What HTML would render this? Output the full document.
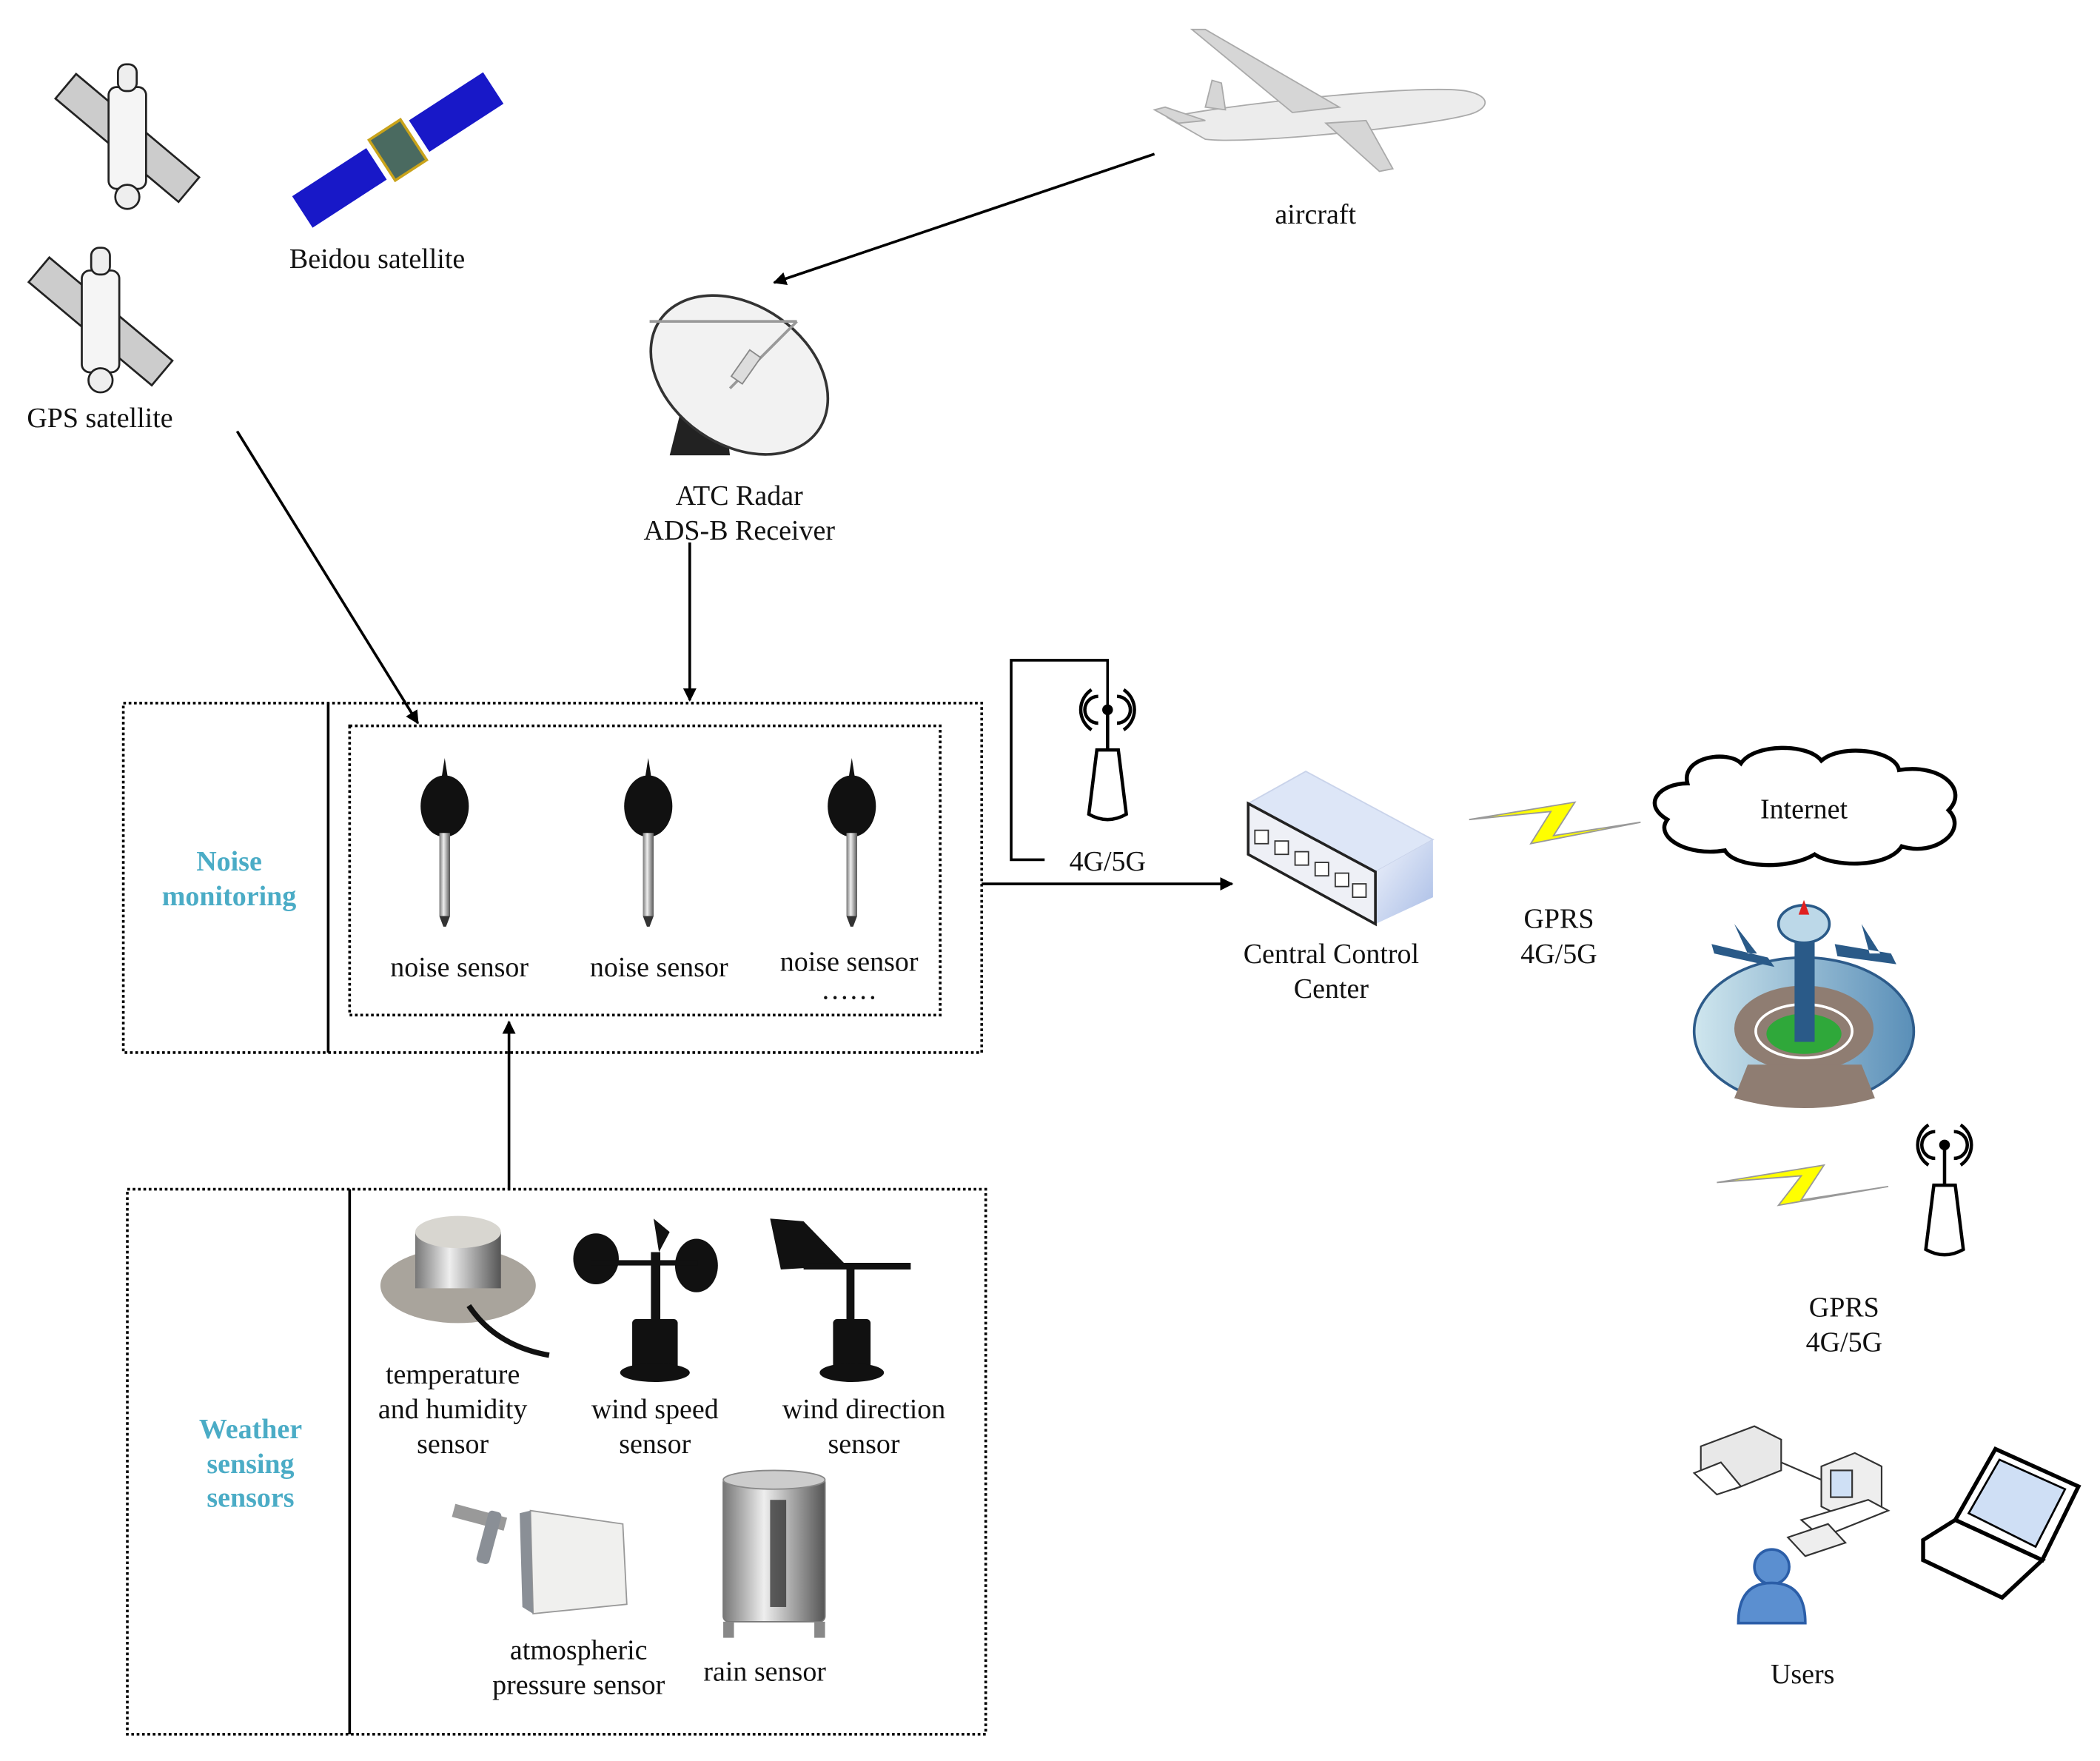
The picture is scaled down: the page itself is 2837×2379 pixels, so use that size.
<!DOCTYPE html>
<html><head><meta charset="utf-8"><style>
html,body{margin:0;padding:0;background:#fff;}
svg{display:block;}
text{font-family:"Liberation Serif",serif;font-size:21px;fill:#111;}
.b{fill:#4bacc6;font-weight:bold;}
</style></head><body>
<svg width="2837" height="2379" viewBox="0 0 1568 1315" xmlns="http://www.w3.org/2000/svg">
<defs>
<marker id="ar" markerWidth="10" markerHeight="10" refX="9" refY="5" orient="auto" markerUnits="userSpaceOnUse" viewBox="0 0 10 10"><path d="M0,0 L10,5 L0,10 Z" fill="#000"/></marker>
<linearGradient id="sw" x1="0" y1="0" x2="1" y2="1"><stop offset="0" stop-color="#eef2fb"/><stop offset="1" stop-color="#a9bde6"/></linearGradient>
<linearGradient id="met" x1="0" x2="1"><stop offset="0" stop-color="#777"/><stop offset=".4" stop-color="#eee"/><stop offset="1" stop-color="#555"/></linearGradient>
<linearGradient id="ring" x1="0" x2="1"><stop offset="0" stop-color="#cfe6ee"/><stop offset="1" stop-color="#5a8fb8"/></linearGradient>
</defs>

<!-- GPS satellites -->
<g transform="translate(95,103)" stroke="#222" stroke-width="1.5">
<rect x="-60" y="-12" width="120" height="24" fill="#ccc" transform="rotate(40)"/>
<rect x="-14" y="-38" width="28" height="76" rx="6" fill="#f5f5f5"/>
<rect x="-7" y="-55" width="14" height="20" rx="6" fill="#eee"/>
<circle cx="0" cy="44" r="9" fill="#eee"/>
</g>
<g transform="translate(75,240)" stroke="#222" stroke-width="1.5">
<rect x="-60" y="-12" width="120" height="24" fill="#ccc" transform="rotate(40)"/>
<rect x="-14" y="-38" width="28" height="76" rx="6" fill="#f5f5f5"/>
<rect x="-7" y="-55" width="14" height="20" rx="6" fill="#eee"/>
<circle cx="0" cy="44" r="9" fill="#eee"/>
</g>
<text x="20" y="319">GPS satellite</text>

<!-- Beidou -->
<g transform="translate(297,112) rotate(-33)">
<rect x="-85" y="-14" width="66" height="28" fill="#1818c8"/>
<rect x="19" y="-14" width="66" height="28" fill="#1818c8"/>
<rect x="-14" y="-18" width="28" height="36" fill="#4a6a60" stroke="#c9a31a" stroke-width="2"/>
</g>
<text x="216" y="200">Beidou satellite</text>

<!-- aircraft -->
<g fill="#d6d6d6" stroke="#aaa" stroke-width="1">
<path d="M872,88 C900,80 1060,62 1095,68 C1115,72 1112,82 1095,86 C1060,95 930,108 900,104 Z" fill="#ececec"/>
<path d="M965,84 L890,22 L900,22 L1000,80 Z"/>
<path d="M990,92 L1030,128 L1040,126 L1020,90 Z"/>
<path d="M880,92 L862,82 L870,80 L900,90 Z"/>
<path d="M900,80 L905,60 L912,62 L915,82 Z"/>
</g>
<text x="952" y="167">aircraft</text>
<line x1="862" y1="115" x2="578" y2="211" stroke="#000" stroke-width="2" marker-end="url(#ar)"/>

<!-- radar -->
<g>
<path d="M510,300 L500,340 L545,340 L540,300 Z" fill="#222"/>
<ellipse cx="552" cy="280" rx="72" ry="52" transform="rotate(35 552 280)" fill="#f2f2f2" stroke="#333" stroke-width="2"/>
<line x1="485" y1="240" x2="595" y2="240" stroke="#999" stroke-width="2"/>
<line x1="595" y1="240" x2="545" y2="290" stroke="#999" stroke-width="2"/>
<rect x="552" y="262" width="10" height="24" fill="#ddd" stroke="#888" transform="rotate(35 557 274)"/>
</g>
<text x="552" y="377" text-anchor="middle">ATC Radar</text>
<text x="552" y="403" text-anchor="middle">ADS-B Receiver</text>
<line x1="515" y1="405" x2="515" y2="523" stroke="#000" stroke-width="2" marker-end="url(#ar)"/>
<line x1="177" y1="322" x2="312" y2="540" stroke="#000" stroke-width="2" marker-end="url(#ar)"/>

<!-- noise box -->
<rect x="92" y="525" width="641" height="261" fill="none" stroke="#000" stroke-width="2" stroke-dasharray="2,2"/>
<line x1="245" y1="525" x2="245" y2="786" stroke="#000" stroke-width="2"/>
<rect x="261" y="542" width="441" height="216" fill="none" stroke="#000" stroke-width="2" stroke-dasharray="2,2"/>
<text class="b" x="171" y="650" text-anchor="middle">Noise</text>
<text class="b" x="171" y="676" text-anchor="middle">monitoring</text>
<g>
<path d="M332,566 L335,585 L329,585 Z" fill="#111"/>
<ellipse cx="332" cy="602" rx="18" ry="23" fill="#111"/>
<rect x="328" y="622" width="8" height="62" fill="url(#met)"/>
<path d="M328,684 L336,684 L333,692 L331,692 Z" fill="#333"/>
</g>
<g transform="translate(152,0)">
<path d="M332,566 L335,585 L329,585 Z" fill="#111"/>
<ellipse cx="332" cy="602" rx="18" ry="23" fill="#111"/>
<rect x="328" y="622" width="8" height="62" fill="url(#met)"/>
<path d="M328,684 L336,684 L333,692 L331,692 Z" fill="#333"/>
</g>
<g transform="translate(304,0)">
<path d="M332,566 L335,585 L329,585 Z" fill="#111"/>
<ellipse cx="332" cy="602" rx="18" ry="23" fill="#111"/>
<rect x="328" y="622" width="8" height="62" fill="url(#met)"/>
<path d="M328,684 L336,684 L333,692 L331,692 Z" fill="#333"/>
</g>
<text x="343" y="729" text-anchor="middle">noise sensor</text>
<text x="492" y="729" text-anchor="middle">noise sensor</text>
<text x="634" y="725" text-anchor="middle">noise sensor</text>
<text x="634" y="746" text-anchor="middle">……</text>

<!-- antenna 1 -->
<polyline points="780,642 755,642 755,493 827,493 827,528" fill="none" stroke="#000" stroke-width="2"/>
<g transform="translate(827,530)">
<path d="M-7,-10 A10,10 0 0 0 -7,10 M7,-10 A10,10 0 0 1 7,10 M-12,-15 A18,18 0 0 0 -12,15 M12,-15 A18,18 0 0 1 12,15" fill="none" stroke="#000" stroke-width="2.5"/>
<circle r="4" fill="#000"/>
<line x1="0" y1="0" x2="0" y2="30" stroke="#000" stroke-width="2.5"/>
<path d="M-8,30 L8,30 L14,78 Q0,86 -14,78 Z" fill="#fff" stroke="#000" stroke-width="2.5"/>
</g>
<text x="827" y="650" text-anchor="middle">4G/5G</text>
<line x1="733" y1="660" x2="920" y2="660" stroke="#000" stroke-width="2" marker-end="url(#ar)"/>

<!-- switch -->
<g>
<path d="M932,600 L975,576 L1070,627 L1027,651 Z" fill="#dde6f7" stroke="#c9d3ea"/>
<path d="M1027,651 L1070,627 L1070,670 L1027,690 Z" fill="url(#sw)"/>
<path d="M932,600 L1027,651 L1027,690 L932,638 Z" fill="#eef0f6" stroke="#222" stroke-width="2"/>
<g fill="#fff" stroke="#333" stroke-width="1">
<rect x="937" y="620" width="10" height="10"/><rect x="952" y="628" width="10" height="10"/><rect x="967" y="636" width="10" height="10"/>
<rect x="982" y="644" width="10" height="10"/><rect x="997" y="652" width="10" height="10"/><rect x="1010" y="660" width="10" height="10"/>
</g>
</g>
<text x="994" y="719" text-anchor="middle">Central Control</text>
<text x="994" y="745" text-anchor="middle">Center</text>

<!-- lightning 1 -->
<path d="M1097,612 L1176,599 L1160,624 L1225,614 L1143,630 L1158,606 Z" fill="#ffff00" stroke="#999" stroke-width="1"/>
<text x="1164" y="693" text-anchor="middle">GPRS</text>
<text x="1164" y="719" text-anchor="middle">4G/5G</text>

<!-- cloud -->
<path d="M1260,585 C1255,565 1290,560 1300,570 C1310,555 1350,555 1360,568 C1375,555 1415,560 1418,575 C1450,570 1470,590 1455,605 C1470,620 1445,640 1420,632 C1410,648 1370,648 1355,638 C1335,650 1295,648 1288,635 C1260,640 1235,625 1245,612 C1225,600 1240,585 1260,585 Z" fill="#fff" stroke="#000" stroke-width="3"/>
<text x="1347" y="611" text-anchor="middle">Internet</text>

<!-- tower -->
<g>
<ellipse cx="1347" cy="770" rx="82" ry="55" fill="url(#ring)" stroke="#2d5b8a" stroke-width="2"/>
<ellipse cx="1347" cy="768" rx="52" ry="32" fill="#8f7d72"/>
<ellipse cx="1347" cy="770" rx="36" ry="20" fill="none" stroke="#fff" stroke-width="2"/>
<ellipse cx="1347" cy="772" rx="28" ry="15" fill="#2fa83a"/>
<path d="M1305,795 L1390,795 L1400,820 Q1347,835 1295,820 Z" fill="#8f7d72"/>
<rect x="1340" y="700" width="15" height="78" fill="#2a5a88"/>
<ellipse cx="1347" cy="690" rx="19" ry="14" fill="#bcd8e8" stroke="#2a5a88" stroke-width="2"/>
<path d="M1347,672 L1351,683 L1343,683 Z" fill="#e02020"/>
<path d="M1278,705 L1320,715 L1325,722 L1280,712 Z M1295,690 L1305,712 L1312,712 Z" fill="#2a5a88"/>
<path d="M1370,705 L1412,712 L1416,720 L1372,714 Z M1390,690 L1396,712 L1404,712 Z" fill="#2a5a88"/>
</g>

<!-- lightning 2 + antenna 2 -->
<path d="M1282,883 L1362,870 L1345,896 L1410,886 L1328,900 L1345,878 Z" fill="#ffff00" stroke="#999" stroke-width="1"/>
<g transform="translate(1452,855)">
<path d="M-7,-10 A10,10 0 0 0 -7,10 M7,-10 A10,10 0 0 1 7,10 M-12,-15 A18,18 0 0 0 -12,15 M12,-15 A18,18 0 0 1 12,15" fill="none" stroke="#000" stroke-width="2.5"/>
<circle r="4" fill="#000"/>
<line x1="0" y1="0" x2="0" y2="30" stroke="#000" stroke-width="2.5"/>
<path d="M-8,30 L8,30 L14,78 Q0,86 -14,78 Z" fill="#fff" stroke="#000" stroke-width="2.5"/>
</g>
<text x="1377" y="983" text-anchor="middle">GPRS</text>
<text x="1377" y="1009" text-anchor="middle">4G/5G</text>

<!-- users -->
<g stroke="#333" stroke-width="1.2">
<path d="M1270,1080 L1310,1065 L1330,1075 L1330,1098 L1295,1112 L1270,1100 Z" fill="#e8e8e8"/>
<path d="M1265,1100 L1285,1092 L1300,1110 L1282,1116 Z" fill="#fff"/>
<line x1="1330" y1="1092" x2="1360" y2="1105" stroke="#333"/>
<path d="M1360,1095 L1385,1085 L1405,1095 L1405,1125 L1380,1135 L1360,1125 Z" fill="#eee"/>
<rect x="1367" y="1098" width="16" height="20" fill="#cfe0f5"/>
<path d="M1345,1135 L1395,1120 L1410,1128 L1360,1148 Z" fill="#fff"/>
<path d="M1335,1148 L1365,1138 L1378,1152 L1348,1162 Z" fill="#eee"/>
</g>
<circle cx="1323" cy="1170" r="13" fill="#5b8fd0" stroke="#2b5ea8" stroke-width="2"/>
<path d="M1298,1212 Q1298,1182 1323,1182 Q1348,1182 1348,1212 Z" fill="#5b8fd0" stroke="#2b5ea8" stroke-width="2"/>
<g stroke="#000" stroke-width="3">
<path d="M1460,1135 L1490,1082 L1552,1110 L1525,1165 Z" fill="#fff"/>
<path d="M1470,1130 L1493,1090 L1542,1112 L1520,1155 Z" fill="#cfdff5" stroke-width="1.5"/>
<path d="M1436,1150 L1460,1135 L1525,1165 L1495,1193 L1436,1165 Z" fill="#fff"/>
</g>
<text x="1346" y="1257" text-anchor="middle">Users</text>

<!-- weather box -->
<line x1="380" y1="888" x2="380" y2="763" stroke="#000" stroke-width="2" marker-end="url(#ar)"/>
<rect x="95" y="888" width="641" height="407" fill="none" stroke="#000" stroke-width="2" stroke-dasharray="2,2"/>
<line x1="261" y1="888" x2="261" y2="1295" stroke="#000" stroke-width="2"/>
<text class="b" x="187" y="1074" text-anchor="middle">Weather</text>
<text class="b" x="187" y="1100" text-anchor="middle">sensing</text>
<text class="b" x="187" y="1125" text-anchor="middle">sensors</text>

<!-- temp sensor -->
<ellipse cx="342" cy="960" rx="58" ry="28" fill="#a9a49c"/>
<rect x="310" y="920" width="64" height="42" fill="url(#met)"/>
<ellipse cx="342" cy="920" rx="32" ry="12" fill="#d8d6d0"/>
<path d="M350,975 Q370,1005 410,1012" fill="none" stroke="#111" stroke-width="4"/>
<text x="338" y="1033" text-anchor="middle">temperature</text>
<text x="338" y="1059" text-anchor="middle">and humidity</text>
<text x="338" y="1085" text-anchor="middle">sensor</text>

<!-- wind speed -->
<g fill="#111">
<ellipse cx="445" cy="940" rx="17" ry="19"/>
<ellipse cx="520" cy="945" rx="16" ry="20"/>
<path d="M488,910 L500,920 L492,935 Z"/>
<rect x="441" y="941" width="80" height="4"/>
<rect x="486" y="935" width="7" height="55"/>
<rect x="472" y="985" width="34" height="40" rx="3"/>
<ellipse cx="489" cy="1025" rx="26" ry="7"/>
</g>
<text x="489" y="1059" text-anchor="middle">wind speed</text>
<text x="489" y="1085" text-anchor="middle">sensor</text>

<!-- wind direction -->
<g fill="#111">
<path d="M575,910 L600,912 L632,945 L583,948 Z"/>
<rect x="600" y="943" width="80" height="5"/>
<rect x="632" y="945" width="6" height="45"/>
<rect x="622" y="985" width="28" height="40" rx="3"/>
<ellipse cx="636" cy="1025" rx="24" ry="7"/>
</g>
<text x="645" y="1059" text-anchor="middle">wind direction</text>
<text x="645" y="1085" text-anchor="middle">sensor</text>

<!-- pressure -->
<g>
<rect x="338" y="1128" width="40" height="10" fill="#999" transform="rotate(15 358 1133)"/>
<rect x="360" y="1128" width="10" height="40" fill="#8a8f96" rx="3" transform="rotate(15 365 1148)"/>
<path d="M396,1128 L465,1138 L468,1198 L398,1205 Z" fill="#f0f0ee" stroke="#999"/>
<path d="M396,1128 L388,1130 L390,1200 L398,1205 Z" fill="#8a8f96"/>
</g>
<text x="432" y="1239" text-anchor="middle">atmospheric</text>
<text x="432" y="1265" text-anchor="middle">pressure sensor</text>

<!-- rain -->
<g>
<rect x="540" y="1103" width="76" height="108" rx="4" fill="url(#met)" stroke="#777"/>
<ellipse cx="578" cy="1105" rx="38" ry="7" fill="#ccc" stroke="#888"/>
<rect x="575" y="1120" width="12" height="80" fill="#222" opacity=".7"/>
<rect x="540" y="1211" width="8" height="12" fill="#888"/><rect x="608" y="1211" width="8" height="12" fill="#888"/>
</g>
<text x="571" y="1255" text-anchor="middle">rain sensor</text>
</svg>
</body></html>
